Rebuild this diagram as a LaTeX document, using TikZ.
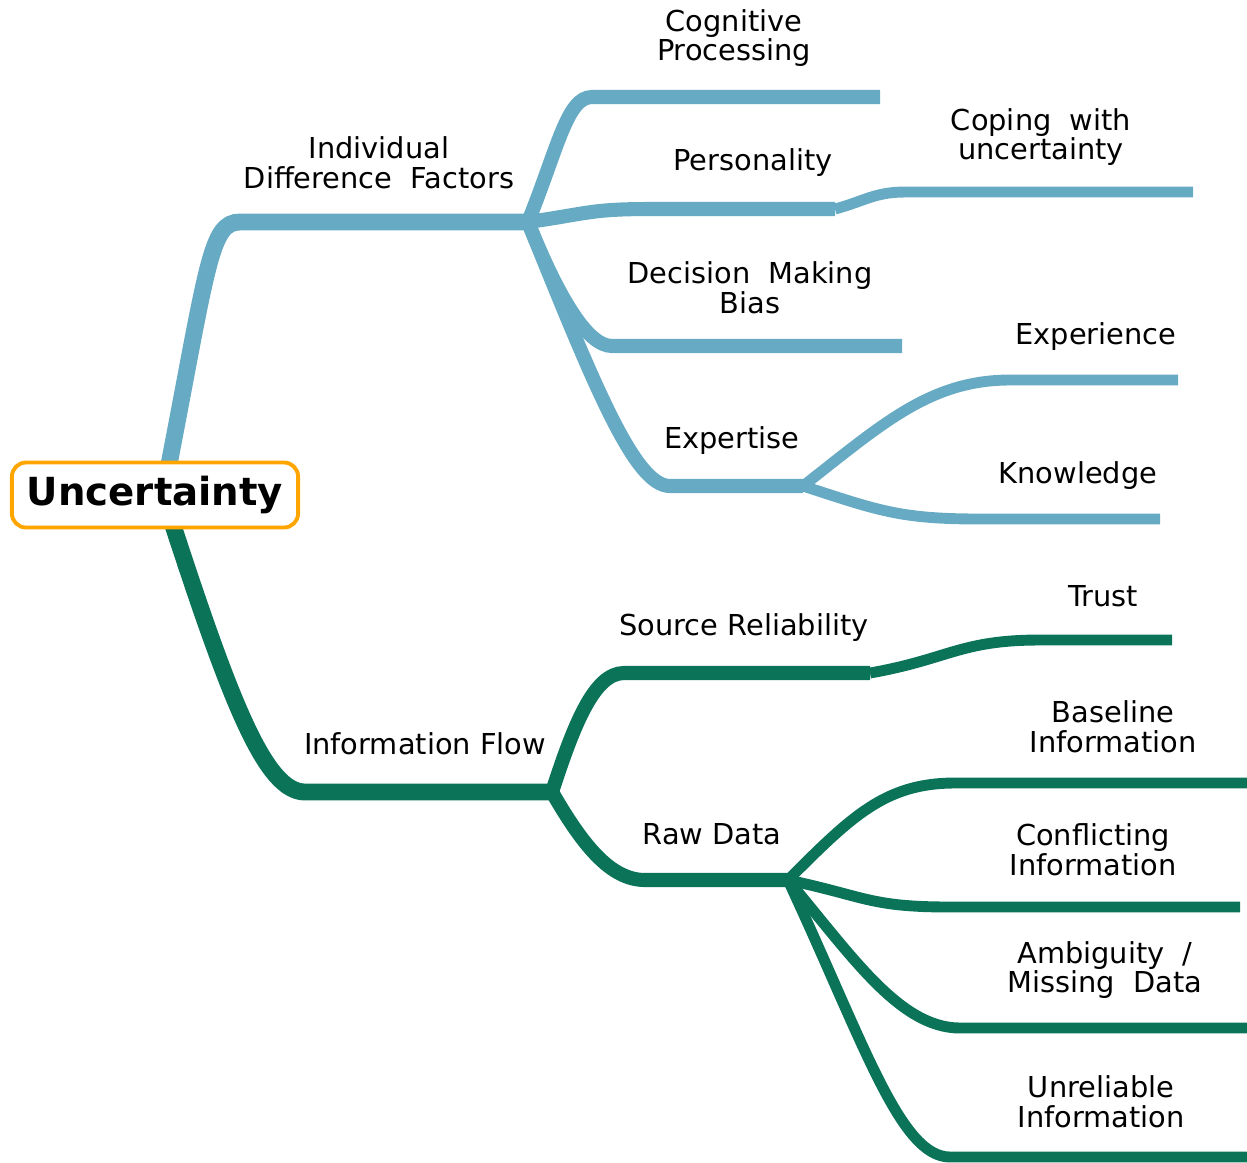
\documentclass[tikz,border=0pt]{standalone}
\usepackage{fontspec}
\setmainfont{DejaVu Sans}
\usetikzlibrary{backgrounds}
\definecolor{branchblue}{HTML}{67AAC3}
\definecolor{branchgreen}{HTML}{0A7358}
\definecolor{rootorange}{HTML}{FFA500}

\begin{document}
\begin{tikzpicture}[
    x=0.01cm, y=-0.01cm,
    root/.style={draw=rootorange, line width=1.1pt, rounded corners=4pt, fill=white, minimum width=2.86cm, minimum height=0.65cm, inner sep=0pt, font=\bfseries\fontsize{11}{13}\selectfont},
    topic/.style={align=center, inner sep=0pt, font=\fontsize{8.2}{8.4}\selectfont},
    lvlone/.style={line width=4.8pt},
    lvltwo/.style={line width=4pt},
    lvlthree/.style={line width=3.1pt}
  ]
  \useasboundingbox (0,0) rectangle (1247,1162);

  % Central topic
  \node[root] (uncert) at (155,495) {Uncertainty};

  % Branch points
  \coordinate (bstart) at (166,480);
  \coordinate (gstart) at (168,510);
  \coordinate (idf) at (528,222);
  \coordinate (pers) at (835,209);
  \coordinate (expert) at (803,486);
  \coordinate (infoflow) at (552,792);
  \coordinate (source) at (870,673);
  \coordinate (raw) at (788,880);

  % Labels
  \node[topic] (idflabel) at (379,163) {Individual\\Difference~~Factors};
  \node[topic] (coglabel) at (734,38) {Cognitive\\Processing};
  \node[topic] (perslabel) at (753,163) {Personality};
  \node[topic] (copelabel) at (1041,137) {Coping~~with\\uncertainty};
  \node[topic] (declabel) at (750,288) {Decision~~Making\\Bias};
  \node[topic] (explabel) at (732,441) {Expertise};
  \node[topic] (experlabel) at (1096,337) {Experience};
  \node[topic] (knowlabel) at (1078,476) {Knowledge};
  \node[topic] (flowlabel) at (425,744) {Information Flow};
  \node[topic] (srclabel) at (744,628) {Source Reliability};
  \node[topic] (trustlabel) at (1103,596) {Trust};
  \node[topic] (rawlabel) at (712,834) {Raw Data};
  \node[topic] (baselabel) at (1113,727) {Baseline\\Information};
  \node[topic] (conflabel) at (1093,850) {Conflicting\\Information};
  \node[topic] (amblabel) at (1105,970) {Ambiguity~~/\\Missing~~Data};
  \node[topic] (unrellabel) at (1101,1102) {Unreliable\\Information};

  \begin{pgfonlayer}{background}
    % Individual difference factors
    \begin{scope}[draw=branchblue]
      \draw[lvlone] (bstart) to[out=79, in=180, out distance=2.2cm, in distance=0.3cm] (240,222) -- (idf);
      \draw[lvltwo] (idf) to[out=68, in=180, out distance=0.8cm, in distance=0.25cm] (592,97) -- (880,97);
      \draw[lvltwo] (idf) to[out=8, in=180, out distance=0.6cm, in distance=0.6cm] (650,209) -- (pers);
      \draw[lvlthree] (pers) to[out=15, in=180, out distance=0.3cm, in distance=0.3cm] (905,192) -- (1193,192);
      \draw[lvltwo] (idf) to[out=-68, in=180, out distance=0.8cm, in distance=0.25cm] (612,346) -- (902,346);
      \draw[lvltwo] (idf) to[out=-68, in=180, out distance=1.8cm, in distance=0.35cm] (670,486) -- (expert);
      \draw[lvlthree] (expert) to[out=38, in=180, out distance=1cm, in distance=0.8cm] (1010,380) -- (1178,380);
      \draw[lvlthree] (expert) to[out=-18, in=180, out distance=0.8cm, in distance=0.8cm] (980,519) -- (1160,519);
    \end{scope}

    % Information flow
    \begin{scope}[draw=branchgreen]
      \draw[lvlone] (gstart) to[out=-72, in=180, out distance=2.0cm, in distance=0.4cm] (305,792) -- (infoflow);
      \draw[lvltwo] (infoflow) to[out=72, in=180, out distance=0.7cm, in distance=0.3cm] (624,673) -- (source);
      \draw[lvlthree] (source) to[out=10, in=180, out distance=0.8cm, in distance=0.8cm] (1040,640) -- (1172,640);
      \draw[lvltwo] (infoflow) to[out=-60, in=180, out distance=0.6cm, in distance=0.35cm] (645,880) -- (raw);
      \draw[lvlthree] (raw) to[out=45, in=180, out distance=0.9cm, in distance=0.7cm] (955,783) -- (1247,783);
      \draw[lvlthree] (raw) to[out=-12, in=180, out distance=0.8cm, in distance=0.8cm] (950,907) -- (1240,907);
      \draw[lvlthree] (raw) to[out=-50, in=180, out distance=1.0cm, in distance=0.6cm] (960,1028) -- (1247,1028);
      \draw[lvlthree] (raw) to[out=-65, in=180, out distance=1.8cm, in distance=0.5cm] (950,1157) -- (1247,1157);
    \end{scope}
  \end{pgfonlayer}
\end{tikzpicture}
\end{document}
